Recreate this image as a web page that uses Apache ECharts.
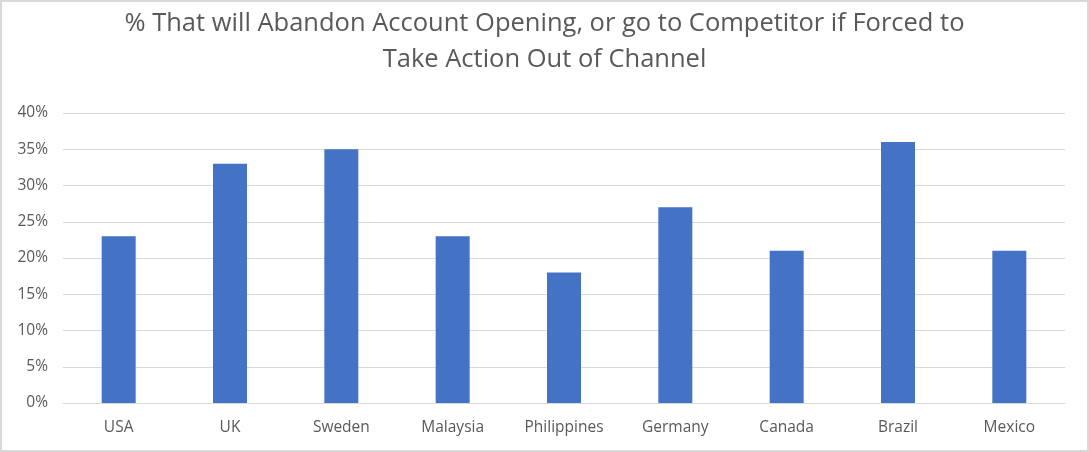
<!DOCTYPE html>
<html>
<head>
<meta charset="utf-8">
<script src="https://cdn.jsdelivr.net/npm/echarts@6/dist/echarts.min.js"></script>
<style>
  html, body { margin: 0; padding: 0; background: #fff; }
  #chart { width: 1085px; height: 448px; border: 2px solid #d9d9d9; }
</style>
</head>
<body>
<div id="chart"></div>
<script>
const countries = ['USA', 'UK', 'Sweden', 'Malaysia', 'Philippines', 'Germany', 'Canada', 'Brazil', 'Mexico']
const abandonPct = [23, 33, 35, 23, 18, 27, 21, 36, 21]
const titleText = '% That will Abandon Account Opening, or go to Competitor if Forced to\nTake Action Out of Channel'

const chart = echarts.init(document.getElementById('chart'))

chart.setOption({
  backgroundColor: '#fff',
  animation: false,
  title: {
    text: titleText,
    left: 'center',
    top: -1,
    textStyle: {
      color: '#595959',
      fontSize: 25.5,
      fontWeight: 'normal',
      fontFamily: 'Open Sans',
      lineHeight: 36,
    },
  },
  grid: { left: 61, right: 22, top: 111, bottom: 47 },
  xAxis: {
    type: 'category',
    data: countries,
    axisLine: { lineStyle: { color: '#d9d9d9' } },
    axisTick: { show: false },
    axisLabel: { color: '#595959', fontSize: 15.5, fontFamily: 'Open Sans', margin: 17 },
  },
  yAxis: {
    type: 'value',
    min: 0,
    max: 40,
    interval: 5,
    axisLine: { show: false },
    axisTick: { show: false },
    axisLabel: {
      color: '#595959',
      fontSize: 15.5,
      fontFamily: 'Open Sans',
      margin: 15,
      formatter: v => v + '%',
    },
    splitLine: { lineStyle: { color: '#d9d9d9', width: 1 } },
  },
  series: [
    {
      type: 'bar',
      data: abandonPct,
      barWidth: 34,
      itemStyle: { color: '#4472c4' },
    },
  ],
})
</script>
</body>
</html>
